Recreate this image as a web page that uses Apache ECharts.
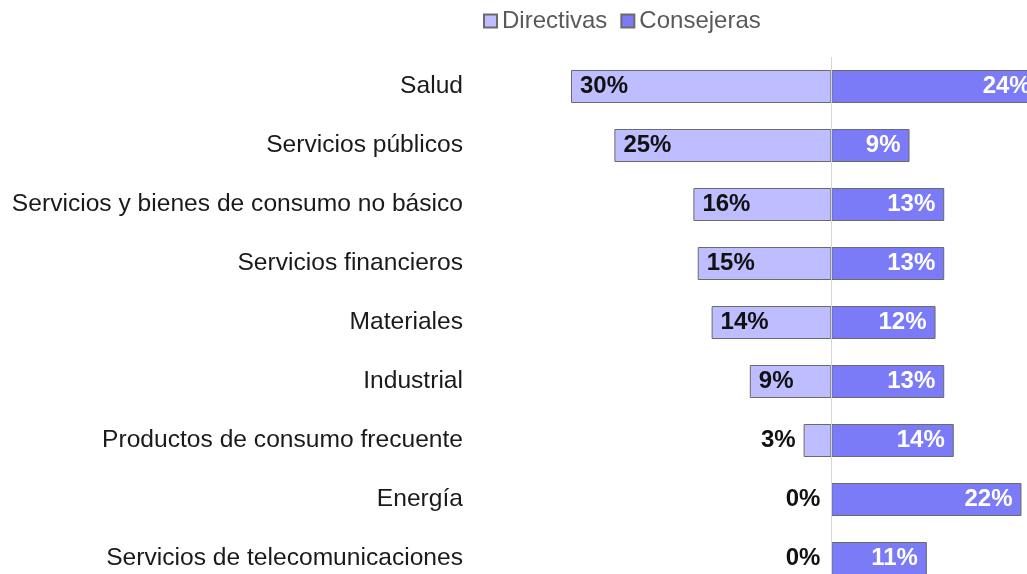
<!DOCTYPE html>
<html>
<head>
<meta charset="utf-8">
<script src="https://cdn.jsdelivr.net/npm/echarts@6/dist/echarts.min.js"></script>
<style>html,body{margin:0;padding:0;background:#fff}#c{width:1027px;height:574px}</style>
</head>
<body>
<div id="c"></div>
<script>
const categories = ["Salud","Servicios públicos","Servicios y bienes de consumo no básico","Servicios financieros","Materiales","Industrial","Productos de consumo frecuente","Energía","Servicios de telecomunicaciones"];
const directivas = [30, 25, 15.9, 15.4, 13.8, 9.4, 3.2, 0, 0];
const directivasLabels = ["30%","25%","16%","15%","14%","9%","3%","0%","0%"];
const consejeras = [24, 9, 13, 13, 12, 13, 14.1, 21.9, 11];
const consejerasLabels = ["24%","9%","13%","13%","12%","13%","14%","22%","11%"];
const seriesNames = ["Directivas","Consejeras"];

const chart = echarts.init(document.getElementById('c'), null, {renderer:'canvas'});
const font = 'Arial, "Liberation Sans", sans-serif';

const dirData = directivas.map((v, i) => {
  const item = { value: -v };
  if (v < 5) {
    item.label = { position: 'left', distance: v === 0 ? 11 : 8 };
  }
  if (v === 0) item.itemStyle = { borderWidth: 0 };
  return item;
});

chart.setOption({
  animation: false,
  legend: {
    top: 4, left: 478,
    itemWidth: 13, itemHeight: 13, itemGap: 13,
    icon: 'rect',
    textStyle: { fontFamily: font, fontSize: 24, color: '#595959' },
    data: seriesNames
  },
  grid: { left: 571, top: 57, width: 468.7, height: 531, outerBoundsMode: 'none', containLabel: false },
  xAxis: {
    type: 'value', min: -30, max: 24,
    axisLine: { show: false }, axisTick: { show: false },
    axisLabel: { show: false }, splitLine: { show: false }
  },
  yAxis: {
    type: 'category', inverse: true, data: categories,
    axisLine: { show: false, onZero: false }, axisTick: { show: false },
    axisLabel: { margin: 108, fontFamily: font, fontSize: 24.6, color: '#1a1a1a' }
  },
  series: [
    {
      name: seriesNames[0], type: 'bar', stack: 's', barWidth: 33,
      data: dirData,
      itemStyle: { color: '#BDBDFF', borderColor: '#6a6a6a', borderWidth: 1 },
      label: {
        show: true, position: 'insideLeft', distance: 9,
        fontFamily: font, fontSize: 24, fontWeight: 'bold', color: '#111',
        formatter: p => directivasLabels[p.dataIndex]
      },
      markLine: {
        silent: true, symbol: 'none', label: { show: false },
        lineStyle: { color: '#d6d6d6', width: 1, type: 'solid' },
        data: [{ xAxis: 0 }]
      },
      z: 2
    },
    {
      name: seriesNames[1], type: 'bar', stack: 's', barWidth: 33,
      data: consejeras,
      itemStyle: { color: '#7B7BF7', borderColor: '#6a6a6a', borderWidth: 1 },
      label: {
        show: true, position: 'insideRight', distance: 9,
        fontFamily: font, fontSize: 24, fontWeight: 'bold', color: '#ffffff',
        formatter: p => consejerasLabels[p.dataIndex]
      },
      z: 2
    }
  ]
});
</script>
</body>
</html>
